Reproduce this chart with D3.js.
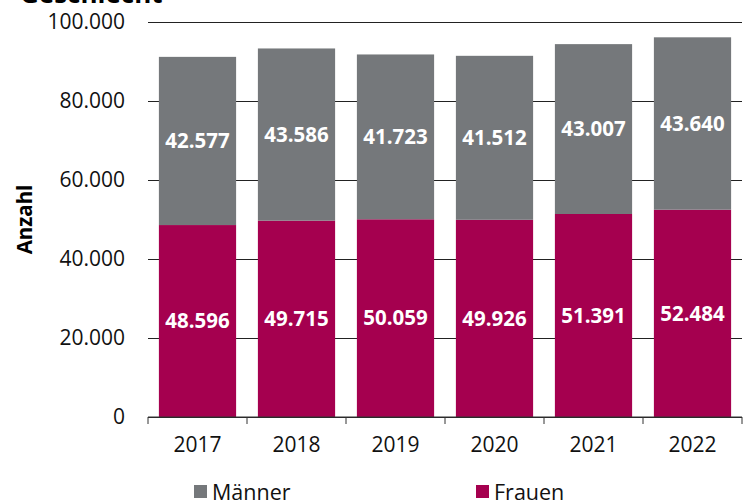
<!DOCTYPE html>
<html>
<head>
<meta charset="utf-8">
<script src="https://cdn.jsdelivr.net/npm/d3@7"></script>
<style>
  body { margin: 0; background: #fff; }
  text { font-family: "Open Sans", "Noto Sans", sans-serif; }
</style>
</head>
<body>
<div id="chart"></div>
<script>
// data
var years = ['2017', '2018', '2019', '2020', '2021', '2022'];
var frauen = [48596, 49715, 50059, 49926, 51391, 52484];
var maenner = [42577, 43586, 41723, 41512, 43007, 43640];
var yTicks = [0, 20000, 40000, 60000, 80000, 100000];
var seriesNames = ['Männer', 'Frauen'];
var colors = {Frauen: '#a5004f', 'Männer': '#75787b'};

var width = 754, height = 503;
var margin = {top: 22, right: 12, bottom: 86, left: 148};

var fmt = function(v) {
  // deutsche Tausendertrennung
  return d3.format(',')(v).replace(/,/g, '.');
};

var svg = d3.select('#chart').append('svg')
  .attr('width', width)
  .attr('height', height);

var x = d3.scaleBand()
  .domain(years)
  .range([margin.left, width - margin.right])
  .paddingInner(0.22)
  .paddingOuter(0.11);

var y = d3.scaleLinear()
  .domain([0, 100000])
  .range([height - margin.bottom, margin.top]);

// title (cut off at top, like the original)
svg.append('text')
  .attr('x', 20)
  .attr('y', 3)
  .attr('font-size', 26)
  .attr('font-weight', 'bold')
  .attr('fill', '#000')
  .text('Geschlecht');

// y axis + gridlines
var yAxis = d3.axisLeft(y)
  .tickValues(yTicks)
  .tickFormat(fmt)
  .tickSize(-(width - margin.right - margin.left))
  .tickPadding(23);

var gy = svg.append('g')
  .attr('transform', 'translate(' + margin.left + ',0)')
  .call(yAxis);
gy.select('.domain').remove();
gy.selectAll('.tick line').attr('stroke', '#222').attr('stroke-width', 1);
gy.selectAll('.tick text')
  .attr('font-size', 21)
  .attr('fill', '#111')
  .style('font-family', '"Open Sans", "Noto Sans", sans-serif');

// stacked bars
var rows = years.map(function(yr, i) {
  return {year: yr, Frauen: frauen[i], 'Männer': maenner[i]};
});
var stack = d3.stack().keys(['Frauen', 'Männer'])(rows);

var layers = svg.selectAll('g.layer')
  .data(stack)
  .enter().append('g')
  .attr('class', 'layer')
  .attr('fill', function(d) { return colors[d.key]; });

layers.selectAll('rect')
  .data(function(d) { return d; })
  .enter().append('rect')
  .attr('x', function(d) { return x(d.data.year); })
  .attr('y', function(d) { return y(d[1]); })
  .attr('width', x.bandwidth())
  .attr('height', function(d) { return y(d[0]) - y(d[1]); });

// value labels
layers.selectAll('text')
  .data(function(d) { return d; })
  .enter().append('text')
  .attr('x', function(d) { return x(d.data.year) + x.bandwidth() / 2; })
  .attr('y', function(d) { return (y(d[0]) + y(d[1])) / 2; })
  .attr('dy', '0.35em')
  .attr('text-anchor', 'middle')
  .attr('font-size', 20.5)
  .attr('font-weight', 'bold')
  .attr('fill', '#fff')
  .text(function(d) { return fmt(d[1] - d[0]); });

// x axis
var xAxis = d3.axisBottom(x).tickSize(0).tickPadding(20);
var gx = svg.append('g')
  .attr('transform', 'translate(0,' + y(0) + ')')
  .call(xAxis);
gx.select('.domain').attr('d', 'M' + margin.left + ',0H' + (width - margin.right)).attr('stroke', '#333');
gx.selectAll('.tick text')
  .attr('font-size', 21)
  .attr('fill', '#111')
  .style('font-family', '"Open Sans", "Noto Sans", sans-serif');

// tick marks at band borders
var borders = years.map(function(yr) { return x(yr) - x.step() * x.paddingInner() / 2; });
borders.push(width - margin.right);
gx.selectAll('line.border')
  .data(borders)
  .enter().append('line')
  .attr('class', 'border')
  .attr('x1', function(d) { return d; })
  .attr('x2', function(d) { return d; })
  .attr('y1', 0)
  .attr('y2', 7)
  .attr('stroke', '#333');

// y axis title
svg.append('text')
  .attr('transform', 'translate(32,' + y(50000) + ') rotate(-90)')
  .attr('text-anchor', 'middle')
  .attr('font-size', 20.5)
  .attr('font-weight', 'bold')
  .attr('fill', '#000')
  .text('Anzahl');

// legend
var legendX = [194, 476];
var legend = svg.selectAll('g.legend')
  .data(seriesNames)
  .enter().append('g')
  .attr('class', 'legend')
  .attr('transform', function(d, i) { return 'translate(' + legendX[i] + ',485)'; });
legend.append('rect')
  .attr('width', 13)
  .attr('height', 13)
  .attr('fill', function(d) { return colors[d]; });
legend.append('text')
  .attr('x', 18)
  .attr('y', 7)
  .attr('dy', '0.35em')
  .attr('font-size', 21.5)
  .attr('fill', '#111')
  .text(function(d) { return d; });
</script>
</body>
</html>
